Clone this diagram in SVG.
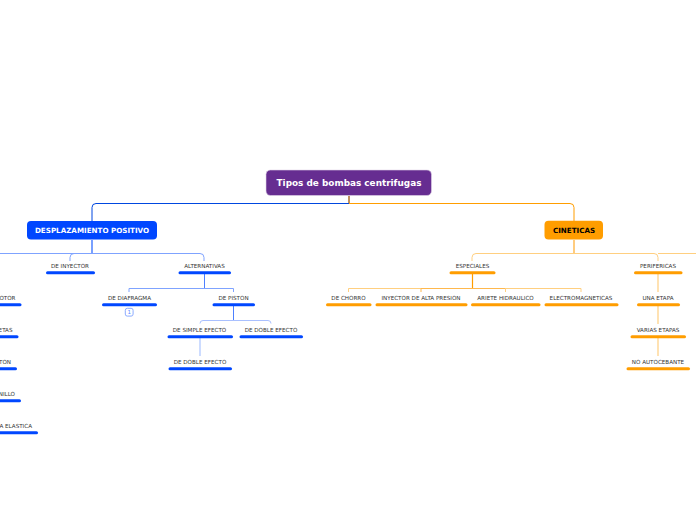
<svg xmlns="http://www.w3.org/2000/svg" width="696" height="520" viewBox="0 0 696 520">
<style>
text{font-family:"DejaVu Sans",Verdana,sans-serif;text-anchor:middle}
.t{font-size:5.6px;fill:#333}
.e{text-anchor:end}
.b{fill:none;stroke:#0047ff;stroke-width:3;stroke-linecap:round}
.o{fill:none;stroke:#ff9d00;stroke-width:3;stroke-linecap:round}
.c{fill:none;stroke-width:1}
.bl{stroke:#7fa3ff}.ol{stroke:#ffcf80}
.bx{fill:none;stroke-width:1}
</style>
<rect width="696" height="520" fill="#fff"/>
<g id="connectors">
<path class="c" stroke="#c09060" style="stroke-width:2" d="M349 196V203.500"/>
<path class="bx" stroke="#0047e0" d="M349 203.500H96a4 4 0 0 0-4 4V221"/>
<path class="bx" stroke="#ff9d00" d="M349 203.500H570a4 4 0 0 1 4 4V221"/>
<path class="c" stroke="#4d80ff" style="stroke-width:1.500" d="M92 240V253.500"/>
<path class="c bl" d="M0 253.500H200a4 4 0 0 1 4 4V261"/>
<path class="c bl" d="M92 253.500H74a4 4 0 0 0-4 4V261"/>
<path class="c" stroke="#ffbb55" style="stroke-width:1.500" d="M574 240V253.500"/>
<path class="c ol" d="M574 253.500H476a4 4 0 0 0-4 4V261"/>
<path class="c ol" d="M574 253.500H654a4 4 0 0 1 4 4V261M658 253.500H696"/>
<path class="c" stroke="#4d80ff" d="M204.500 274V288.500"/>
<path class="c bl" d="M129 292V288.500H233.500V292"/>
<path class="c" stroke="#4d80ff" d="M233.500 306V320.500"/>
<path class="c" stroke="#a9c0ff" d="M200 323.500a3 3 0 0 1 3-3H268a3 3 0 0 1 3 3"/>
<path class="c" stroke="#bcd0ff" style="stroke-width:1.500" d="M200 338V356"/>
<path class="c" stroke="#ff9d00" style="stroke-width:1.200" d="M472.500 274V288.500"/>
<path class="c ol" d="M348.500 292V288.500H581V292M505.500 288.500V292"/>
<path class="c" stroke="#ffb84d" d="M421 292V288.500H505"/>
<path class="c ol" style="stroke-width:1.200" d="M658 274V292M658 306V324M658 338V356"/>
</g>
<g id="root"><rect x="266" y="170" width="165.500" height="25.500" rx="4.500" fill="#662d91" stroke="#e0d5e8" stroke-width=".6"/><text x="349" y="186" font-size="8.900" font-weight="700" fill="#fff">Tipos de bombas centrifugas</text></g>
<g id="desplazamiento"><rect x="27" y="221" width="130" height="18.500" rx="4" fill="#0047ff"/><text x="92" y="233.300" font-size="7.150" font-weight="700" fill="#fff">DESPLAZAMIENTO POSITIVO</text></g>
<g id="cineticas"><rect x="544.500" y="220.800" width="58.500" height="18.700" rx="4" fill="#ff9d00"/><text x="574" y="233.300" font-size="7.150" font-weight="700" fill="#000">CINETICAS</text></g>
<g id="n1"><text class="t" x="70" y="268">DE INYECTOR</text><path class="b" d="M47.500 272.700H93.500"/></g>
<g id="n2"><text class="t" x="204.500" y="268">ALTERNATIVAS</text><path class="b" d="M180 272.700H229.500"/></g>
<g id="n3"><text class="t e" x="15.500" y="300">OTOR</text><path class="b" d="M0 304.700H20"/></g>
<g id="n4"><text class="t e" x="12.500" y="332">ETAS</text><path class="b" d="M0 336.700H17"/></g>
<g id="n5"><text class="t e" x="11" y="364">TON</text><path class="b" d="M0 368.700H15.500"/></g>
<g id="n6"><text class="t e" x="15" y="396">NILLO</text><path class="b" d="M0 400.700H19.500"/></g>
<g id="n7"><text class="t e" x="32" y="428">A ELASTICA</text><path class="b" d="M0 432.700H36.500"/></g>
<g id="n8"><text class="t" x="129.500" y="300">DE DIAFRAGMA</text><path class="b" d="M103.500 304.700H155.500"/><rect x="125.300" y="308.300" width="7.800" height="7.800" rx="2" fill="#fff" stroke="#7fa3ff" stroke-width=".9"/><text x="129.200" y="314.300" font-size="5.500" fill="#5c8aff">1</text></g>
<g id="n9"><text class="t" x="233.500" y="300">DE PISTON</text><path class="b" d="M214 304.700H253.500"/></g>
<g id="n10"><text class="t" x="199.500" y="332">DE SIMPLE EFECTO</text><path class="b" d="M169 336.700H231.500"/></g>
<g id="n11"><text class="t" x="271" y="332">DE DOBLE EFECTO</text><path class="b" d="M241 336.700H301.500"/></g>
<g id="n12"><text class="t" x="200" y="364">DE DOBLE EFECTO</text><path class="b" d="M170 368.700H230.500"/></g>
<g id="n13"><text class="t" x="472.500" y="268">ESPECIALES</text><path class="o" d="M451 272.700H494"/></g>
<g id="n14"><text class="t" x="658" y="268">PERIFERICAS</text><path class="o" d="M635.500 272.700H681"/></g>
<g id="n15"><text class="t" x="348.500" y="300">DE CHORRO</text><path class="o" d="M327.500 304.700H370"/></g>
<g id="n16"><text class="t" x="421" y="300">INYECTOR DE ALTA PRESION</text><path class="o" d="M377 304.700H466"/></g>
<g id="n17"><text class="t" x="505.500" y="300">ARIETE HIDRAULICO</text><path class="o" d="M472.500 304.700H539"/></g>
<g id="n18"><text class="t" x="581" y="300">ELECTROMAGNETICAS</text><path class="o" d="M546 304.700H617"/></g>
<g id="n19"><text class="t" x="658" y="300">UNA ETAPA</text><path class="o" d="M638.500 304.700H678.500"/></g>
<g id="n20"><text class="t" x="658" y="332">VARIAS ETAPAS</text><path class="o" d="M632 336.700H684.500"/></g>
<g id="n21"><text class="t" x="658" y="364">NO AUTOCEBANTE</text><path class="o" d="M628 368.700H688.500"/></g>
</svg>
